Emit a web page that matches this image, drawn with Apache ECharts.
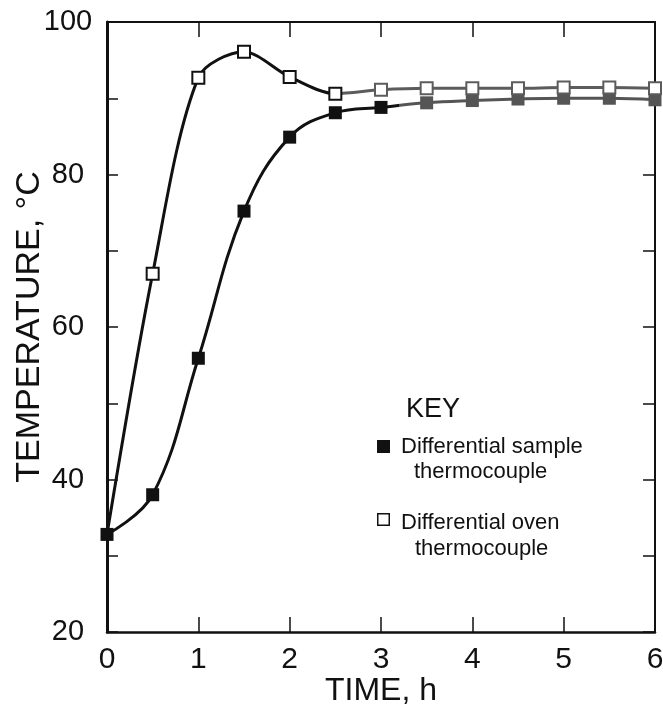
<!DOCTYPE html>
<html><head><meta charset="utf-8">
<script src="https://cdn.jsdelivr.net/npm/echarts@6/dist/echarts.min.js"></script>
<style>html,body{margin:0;padding:0;background:#fff}#c{width:663px;height:717px}</style>
</head><body><div id="c"></div>
<script>
const timeH = [0, 0.5, 1, 1.5, 2, 2.5, 3, 3.5, 4, 4.5, 5, 5.5, 6];
const sampleTemp = [32.8, 38.0, 55.9, 75.2, 84.9, 88.1, 88.8, 89.4, 89.7, 89.9, 90.0, 90.0, 89.8];
const ovenTemp = [32.8, 67.0, 92.7, 96.1, 92.8, 90.6, 91.1, 91.3, 91.3, 91.3, 91.4, 91.4, 91.3];
const xTicks = [0, 1, 2, 3, 4, 5, 6];
const yLabels = [20, 40, 60, 80, 100];
const keyTitle = 'KEY';
const sampleName = ['Differential sample', 'thermocouple'];
const ovenName = ['Differential oven', 'thermocouple'];

const FONT = 'Liberation Sans';
const INK = '#111';
const chart = echarts.init(document.getElementById('c'), null, {renderer: 'canvas'});
const pair = arr => timeH.map((t, i) => [t, arr[i]]);
// the oven curve shares its starting point with the sample curve; only the filled marker shows there
const ovenData = pair(ovenTemp).map((p, i) => i === 0 ? {value: p, symbol: 'none'} : p);

chart.setOption({
  animation: false,
  backgroundColor: '#fff',
  grid: {left: 107, width: 548, top: 22, height: 610, containLabel: false, outerBoundsMode: 'none'},
  xAxis: [{
    type: 'value', min: 0, max: 6, interval: 1, position: 'bottom',
    name: 'TIME, h', nameLocation: 'middle', nameGap: 43, nameMoveOverlap: false,
    nameTextStyle: {fontFamily: FONT, fontSize: 32, color: INK},
    axisLine: {show: true, onZero: false, lineStyle: {color: INK, width: 2.5}},
    axisTick: {show: true, inside: true, length: 15, lineStyle: {color: INK, width: 1.5}},
    axisLabel: {margin: 13, fontFamily: FONT, fontSize: 30, color: INK,
      formatter: v => xTicks.includes(v) ? String(v) : ''},
    splitLine: {show: false}
  }, {
    type: 'value', min: 0, max: 6, interval: 1, position: 'top',
    axisLine: {show: true, onZero: false, lineStyle: {color: INK, width: 2}},
    axisTick: {show: true, inside: true, length: 15, lineStyle: {color: INK, width: 1.5}},
    axisLabel: {show: false}, splitLine: {show: false}
  }],
  yAxis: [{
    type: 'value', min: 20, max: 100, interval: 10, position: 'left',
    name: 'TEMPERATURE, °C', nameLocation: 'middle', nameGap: 60, nameRotate: 90, nameMoveOverlap: false,
    nameTextStyle: {fontFamily: FONT, fontSize: 34, color: INK},
    axisLine: {show: true, onZero: false, lineStyle: {color: INK, width: 3}},
    axisTick: {show: true, inside: true, length: 11, lineStyle: {color: INK, width: 1.5}},
    axisLabel: {margin: 39, align: 'center', fontFamily: FONT, fontSize: 29, color: INK,
      formatter: v => yLabels.includes(v) ? String(v) : ''},
    splitLine: {show: false}
  }, {
    type: 'value', min: 20, max: 100, interval: 10, position: 'right',
    axisLine: {show: true, onZero: false, lineStyle: {color: INK, width: 2}},
    axisTick: {show: true, inside: true, length: 12, lineStyle: {color: INK, width: 1.5}},
    axisLabel: {show: false}, splitLine: {show: false}
  }],
  visualMap: [
    {type: 'piecewise', show: false, seriesIndex: 0, dimension: 0,
     pieces: [{gte: -1, lt: 3.2, color: INK}, {gte: 3.2, lte: 7, color: '#555'}]},
    {type: 'piecewise', show: false, seriesIndex: 1, dimension: 0,
     pieces: [{gte: -1, lt: 2.55, color: INK}, {gte: 2.55, lte: 7, color: '#5c5c5c'}]}
  ],
  series: [{
    name: sampleName.join(' '), type: 'line', smooth: 0.4,
    data: pair(sampleTemp), symbol: 'rect', symbolSize: 13,
    lineStyle: {width: 3}, itemStyle: {color: INK}, z: 3
  }, {
    name: ovenName.join(' '), type: 'line', smooth: 0.3,
    data: ovenData, symbol: 'emptyRect', symbolSize: 12,
    lineStyle: {width: 3}, itemStyle: {color: INK, borderWidth: 1.5}, z: 4
  }],
  graphic: [
    {type: 'text', left: 406, top: 396, style: {text: keyTitle, font: '27px "Liberation Sans"', fill: INK}},
    {type: 'rect', shape: {x: 377, y: 440, width: 13, height: 13}, style: {fill: INK}},
    {type: 'text', x: 401, y: 447, style: {text: sampleName[0], font: '22px "Liberation Sans"', fill: INK, verticalAlign: 'middle'}},
    {type: 'text', x: 414, y: 472, style: {text: sampleName[1], font: '22px "Liberation Sans"', fill: INK, verticalAlign: 'middle'}},
    {type: 'rect', shape: {x: 377.75, y: 513.75, width: 11.5, height: 11.5}, style: {fill: '#fff', stroke: INK, lineWidth: 1.5}},
    {type: 'text', x: 401, y: 523, style: {text: ovenName[0], font: '22px "Liberation Sans"', fill: INK, verticalAlign: 'middle'}},
    {type: 'text', x: 415, y: 549, style: {text: ovenName[1], font: '22px "Liberation Sans"', fill: INK, verticalAlign: 'middle'}}
  ]
});
</script></body></html>
